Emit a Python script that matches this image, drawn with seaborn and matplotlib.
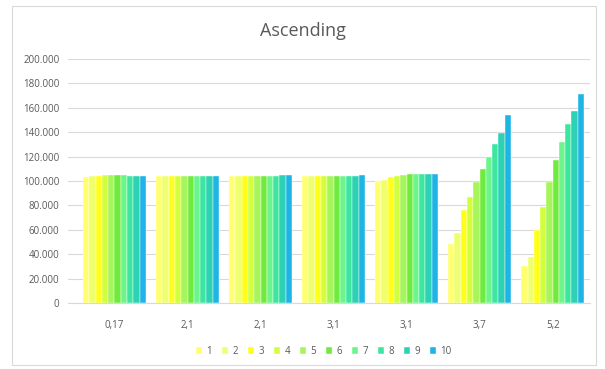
import numpy as np
import pandas as pd
import seaborn as sns
import matplotlib.pyplot as plt
from matplotlib.patches import Rectangle

# Chart data
categories = ["0,17", "2,1", "2,1", "3,1", "3,1", "3,7", "5,2"]
series_names = ["1", "2", "3", "4", "5", "6", "7", "8", "9", "10"]
values = [
    [103000, 104000, 104000, 105000, 105000, 105000, 105000, 104000, 104000, 104000],
    [104000, 104000, 104000, 104000, 104000, 104000, 104000, 104000, 104000, 104000],
    [104000, 104000, 104000, 104000, 104000, 104000, 104000, 104000, 105000, 105000],
    [104000, 104000, 104000, 104000, 104000, 104000, 104000, 104000, 104000, 105000],
    [100000, 101000, 103000, 104000, 105000, 106000, 106000, 106000, 106000, 106000],
    [48000, 57000, 76000, 87000, 99000, 110000, 120000, 130000, 139000, 154000],
    [30000, 38000, 60000, 79000, 99000, 117000, 132000, 147000, 157000, 171000],
]
colors = ["#FFFF70", "#F0FF70", "#FFFF1A", "#D2FF3C", "#A6F55A",
          "#6EEB3C", "#6CF58C", "#3CE6A0", "#2DD2B4", "#1EB4E6"]
y_ticks = [0, 20000, 40000, 60000, 80000, 100000, 120000, 140000, 160000, 180000, 200000]

# Long form table, category index keeps the duplicated labels apart
rows = []
for i, cat in enumerate(categories):
    for j, name in enumerate(series_names):
        rows.append({"pos": i, "series": name, "value": values[i][j]})
df = pd.DataFrame(rows)

sns.set_style("white")
plt.rcParams['font.family'] = ['Open Sans', 'DejaVu Sans']

fig = plt.figure(figsize=(6.05, 3.69), dpi=100)
ax = fig.add_axes([0.112, 0.179, 0.863, 0.661])

sns.barplot(data=df, x="pos", y="value", hue="series", hue_order=series_names,
            palette=colors, width=0.86, saturation=1, ax=ax,
            edgecolor="white", linewidth=0.3, legend=True)

ax.set_xlim(-0.64, 6.51)
ax.set_ylim(0, 200000)
ax.set_yticks(y_ticks)
ax.set_yticklabels([f"{v:,}".replace(",", ".") for v in y_ticks])
ax.set_xticks(range(len(categories)))
ax.set_xticklabels(categories)
ax.set_xlabel("")
ax.set_ylabel("")
ax.yaxis.grid(True, color="#D9D9D9", linewidth=0.8)
ax.set_axisbelow(True)
for side in ["top", "right", "left"]:
    ax.spines[side].set_visible(False)
ax.spines["bottom"].set_color("#D9D9D9")
ax.tick_params(axis="both", length=0, labelsize=7, labelcolor="#595959")
ax.tick_params(axis="x", pad=12)
ax.tick_params(axis="y", pad=6)

# Legend along the bottom
handles, labels = ax.get_legend_handles_labels()
ax.legend(handles, labels, loc="center", bbox_to_anchor=(0.49, -0.2), ncol=10,
          frameon=False, fontsize=7, handlelength=0.7, handleheight=0.7,
          handletextpad=0.4, columnspacing=1.0, labelcolor="#595959")

fig.text(0.5, 0.915, "Ascending", ha="center", va="center", fontsize=13, color="#595959")

# Chart frame
fig.patches.append(Rectangle((0.02, 0.01), 0.965, 0.975, transform=fig.transFigure,
                             fill=False, edgecolor="#D9D9D9", linewidth=0.8))

fig.savefig("out.png", dpi=100)
